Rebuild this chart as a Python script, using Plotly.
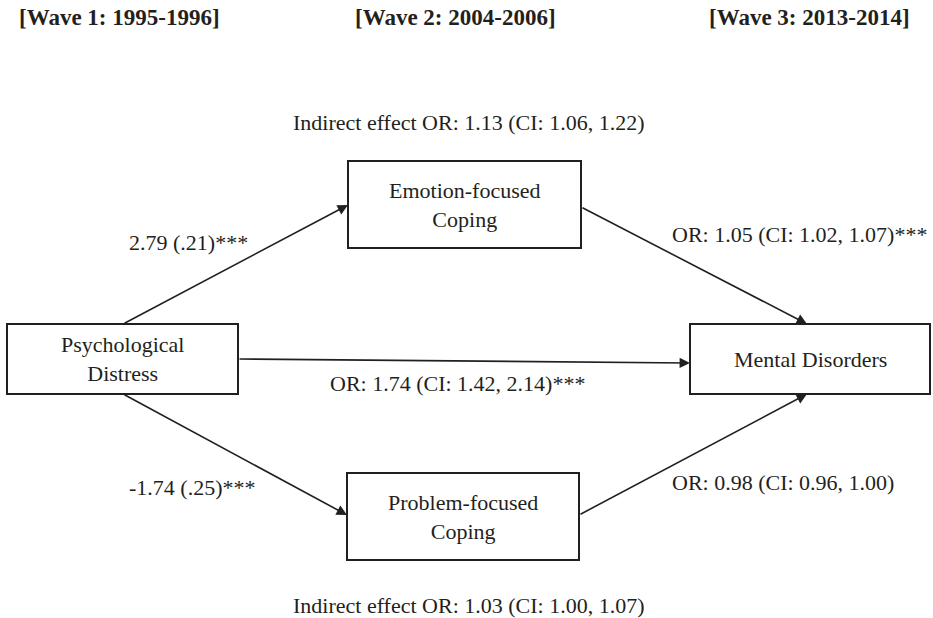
import plotly.graph_objects as go

# ---- data ----
wave_labels = ["[Wave 1: 1995-1996]", "[Wave 2: 2004-2006]", "[Wave 3: 2013-2014]"]
node_names = ["distress", "emotion", "problem", "mental"]
node_labels = ["Psychological<br>Distress", "Emotion-focused<br>Coping",
               "Problem-focused<br>Coping", "Mental Disorders"]
path_labels = ["2.79 (.21)***", "OR: 1.05 (CI: 1.02, 1.07)***",
               "OR: 1.74 (CI: 1.42, 2.14)***", "-1.74 (.25)***",
               "OR: 0.98 (CI: 0.96, 1.00)"]
indirect_labels = ["Indirect effect OR: 1.13 (CI: 1.06, 1.22)",
                   "Indirect effect OR: 1.03 (CI: 1.00, 1.07)"]

# ---- layout (pixel positions, y down) ----
W, H = 933, 618
boxes = {  # x0, y0, x1, y1
    "distress": (7, 324, 238, 394),
    "emotion": (348, 161, 581, 248),
    "problem": (347, 473, 579, 560),
    "mental": (690, 324, 930, 394),
}
arrows = [  # (x_from, y_from, x_to, y_to)
    (123, 324, 348, 205),
    (581, 207, 807, 324),
    (238, 359, 690, 363),
    (123, 394, 347, 515),
    (579, 515, 807, 394),
]
wave_pos = [(119, 17), (455, 17), (809, 17)]
path_pos = [(188, 242), (799, 234), (457, 383), (192, 487), (783, 482)]
indirect_pos = [(469, 122), (469, 605)]

FONT = "Liberation Serif"
INK = "#231f20"

fig = go.Figure()
fig.add_trace(go.Scatter(x=[0, W], y=[0, H], mode="markers",
                         marker=dict(opacity=0), hoverinfo="skip", showlegend=False))

shapes = []
annotations = []
for name, lab in zip(node_names, node_labels):
    x0, y0, x1, y1 = boxes[name]
    shapes.append(dict(type="rect", x0=x0, y0=y0, x1=x1, y1=y1, xref="x", yref="y",
                       line=dict(color=INK, width=2), fillcolor="white", layer="below"))
    annotations.append(dict(x=(x0 + x1) / 2, y=(y0 + y1) / 2, text=lab, showarrow=False,
                            font=dict(family=FONT, size=22, color=INK), xref="x", yref="y"))

for (xa, ya, xb, yb) in arrows:
    annotations.append(dict(x=xb, y=yb, ax=xa, ay=ya, xref="x", yref="y",
                            axref="x", ayref="y", text="", showarrow=True,
                            arrowhead=2, arrowsize=1.3, arrowwidth=1.6,
                            arrowcolor=INK, standoff=0, startstandoff=0))

for lab, (x, y) in zip(wave_labels, wave_pos):
    annotations.append(dict(x=x, y=y, text="<b>" + lab + "</b>", showarrow=False,
                            font=dict(family=FONT, size=23, color=INK), xref="x", yref="y"))
for lab, (x, y) in zip(path_labels, path_pos):
    annotations.append(dict(x=x, y=y, text=lab, showarrow=False,
                            font=dict(family=FONT, size=22, color=INK), xref="x", yref="y"))
for lab, (x, y) in zip(indirect_labels, indirect_pos):
    annotations.append(dict(x=x, y=y, text=lab, showarrow=False,
                            font=dict(family=FONT, size=22, color=INK), xref="x", yref="y"))

fig.update_layout(
    width=W, height=H, margin=dict(l=0, r=0, t=0, b=0),
    paper_bgcolor="white", plot_bgcolor="white",
    xaxis=dict(range=[0, W], visible=False, fixedrange=True),
    yaxis=dict(range=[H, 0], visible=False, fixedrange=True),
    shapes=shapes, annotations=annotations, showlegend=False,
)
fig.write_html("out.html", config={"displayModeBar": False},
               post_script="document.body.style.margin='0';document.body.style.padding='0';")
